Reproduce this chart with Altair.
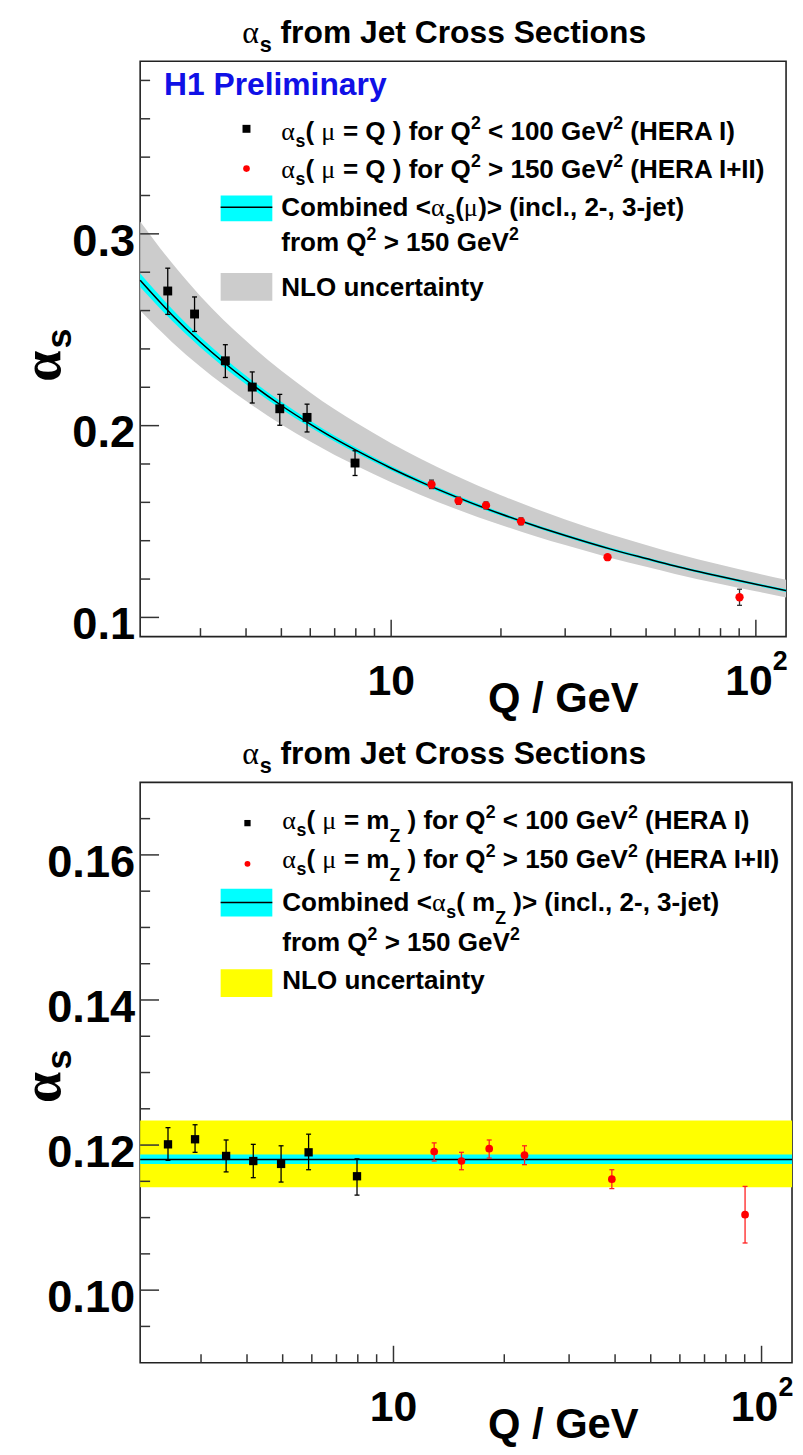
import altair as alt
import pandas as pd

SANS = "Liberation Sans, Arial, Helvetica, sans-serif"
SERIF = "Liberation Serif, Times New Roman, serif"

# ---------------- data ----------------
Q_HERA1 = [2.44, 2.89, 3.51, 4.16, 4.95, 5.88, 7.96]
Q_HERA2 = [12.9, 15.3, 18.2, 22.7, 39.2, 90.2]

# top panel: alpha_s(mu = Q)
ASQ_HERA1 = [0.2702, 0.2582, 0.2338, 0.2201, 0.2088, 0.2043, 0.1805]
ASQ_HERA1_LO = [0.2580, 0.2491, 0.2251, 0.2118, 0.2002, 0.1967, 0.1740]
ASQ_HERA1_HI = [0.2821, 0.2671, 0.2422, 0.2280, 0.2163, 0.2112, 0.1869]
ASQ_HERA2 = [0.1693, 0.1608, 0.1584, 0.1501, 0.1314, 0.1105]
ASQ_HERA2_LO = [0.1672, 0.1590, 0.1566, 0.1483, 0.1302, 0.1063]
ASQ_HERA2_HI = [0.1716, 0.1627, 0.1602, 0.1519, 0.1326, 0.1147]

# running of the combined value (read along the drawn curve and bands)
CURVE_Q = [2.05, 2.5, 3, 4, 5, 6, 7, 8, 10, 12, 15, 20, 25, 30, 40, 50, 60, 80, 100, 121]
CURVE_AS = [0.2758, 0.2580, 0.2435, 0.2238, 0.2105, 0.2008, 0.1932, 0.1872, 0.1778, 0.1708,
            0.1630, 0.1539, 0.1475, 0.1427, 0.1356, 0.1307, 0.1268, 0.1213, 0.1173, 0.1140]
CURVE_NLO_HI = [0.3065, 0.2850, 0.2675, 0.2442, 0.2286, 0.2173, 0.2085, 0.2016, 0.1908, 0.1828,
                0.1740, 0.1637, 0.1565, 0.1511, 0.1432, 0.1377, 0.1334, 0.1274, 0.1231, 0.1196]
CURVE_NLO_LO = [0.2600, 0.2438, 0.2307, 0.2128, 0.2006, 0.1917, 0.1847, 0.1792, 0.1705, 0.1640,
                0.1567, 0.1482, 0.1422, 0.1377, 0.1310, 0.1264, 0.1227, 0.1174, 0.1136, 0.1104]
CURVE_EXP = [0.0035, 0.0031, 0.0027, 0.0022, 0.0019, 0.0017, 0.0015, 0.0014, 0.0012, 0.0011,
             0.0010, 0.0009, 0.0008, 0.0008, 0.0007, 0.0007, 0.0007, 0.0007, 0.0007, 0.0007]

# bottom panel: alpha_s(mu = m_Z)
ASMZ_HERA1 = [0.1201, 0.1208, 0.1185, 0.1178, 0.1174, 0.1190, 0.1157]
ASMZ_HERA1_LO = [0.1179, 0.1190, 0.1163, 0.1155, 0.1149, 0.1166, 0.1131]
ASMZ_HERA1_HI = [0.1224, 0.1228, 0.1207, 0.1201, 0.1199, 0.1215, 0.1181]
ASMZ_HERA2 = [0.1191, 0.1178, 0.1195, 0.1186, 0.1153, 0.1104]
ASMZ_HERA2_LO = [0.1178, 0.1166, 0.1182, 0.1173, 0.1140, 0.1065]
ASMZ_HERA2_HI = [0.1203, 0.1190, 0.1207, 0.1199, 0.1166, 0.1143]
COMBINED_MZ = [0.1180]
COMBINED_MZ_EXP = [0.1174, 0.1187]
COMBINED_MZ_NLO = [0.1142, 0.1234]

# axes
X_DOMAIN = [2.05, 121]
X_MAJOR = [10, 100]
X_MAJOR_TEXT = ["10", "10"]
X_MAJOR_EXP = ["", "2"]
X_MINOR = [3, 4, 5, 6, 7, 8, 9, 20, 30, 40, 50, 60, 70, 80, 90]
Y_DOMAIN_TOP = [0.09, 0.39]
Y_MAJOR_TOP = [0.1, 0.2, 0.3]
Y_MAJOR_TOP_TEXT = ["0.1", "0.2", "0.3"]
Y_MINOR_TOP = [0.12, 0.14, 0.16, 0.18, 0.22, 0.24, 0.26, 0.28, 0.32, 0.34, 0.36, 0.38]
Y_DOMAIN_BOT = [0.09, 0.17]
Y_MAJOR_BOT = [0.10, 0.12, 0.14, 0.16]
Y_MAJOR_BOT_TEXT = ["0.10", "0.12", "0.14", "0.16"]
Y_MINOR_BOT = [0.095, 0.105, 0.11, 0.115, 0.125, 0.13, 0.135, 0.145, 0.15, 0.155, 0.165]

# ---------------- helpers ----------------
ONE = pd.DataFrame({"k": [0]})
TICK = "#333333"

BW = {' ': 278, '!': 333, '(': 333, ')': 333, '+': 584, ',': 278, '-': 333, '.': 278, '/': 278,
      '<': 584, '=': 584, '>': 584,
      'A': 722, 'B': 722, 'C': 722, 'D': 722, 'E': 667, 'F': 611, 'G': 778, 'H': 722, 'I': 278,
      'J': 556, 'K': 722, 'L': 611, 'M': 833, 'N': 722, 'O': 778, 'P': 667, 'Q': 778, 'R': 722,
      'S': 667, 'T': 611, 'U': 722, 'V': 667, 'W': 944, 'X': 667, 'Y': 667, 'Z': 611,
      'a': 556, 'b': 611, 'c': 556, 'd': 611, 'e': 556, 'f': 333, 'g': 611, 'h': 611, 'i': 278,
      'j': 278, 'k': 556, 'l': 278, 'm': 889, 'n': 611, 'o': 611, 'p': 611, 'q': 611, 'r': 389,
      's': 556, 't': 333, 'u': 611, 'v': 556, 'w': 778, 'x': 556, 'y': 556, 'z': 500}


def bw(s):
    return sum(BW.get(c, 556) for c in s) / 1000.0


def txt(t, x, y, fs, font=SANS, weight="bold", color="black", align="left", angle=0):
    kw = dict(text=t, font=font, fontSize=fs, fontWeight=weight, color=color,
              align=align, baseline="alphabetic")
    if angle:
        kw["angle"] = angle
    return alt.Chart(ONE).mark_text(**kw).encode(x=alt.value(x), y=alt.value(y))


def rich(segs, x0, y0, size, color="black", align="left"):
    parts = []
    x = 0.0
    for text, kind in segs:
        if kind == "g":
            fs, font, weight, dy = size, SERIF, "normal", 0.0
            w = 0.55 * fs * len(text)
        elif kind in ("sub", "subz"):
            fs, font, weight = size * 0.68, SANS, "bold"
            dy = size * (0.28 if kind == "sub" else 0.5)
            w = bw(text) * fs
        elif kind == "sup":
            fs, font, weight, dy = size * 0.68, SANS, "bold", -size * 0.42
            w = bw(text) * fs
        else:
            fs, font, weight, dy = size, SANS, "bold", 0.0
            w = bw(text) * fs
        lead = len(text) - len(text.lstrip(" "))
        shown = text.strip(" ")
        if shown:
            parts.append((x + lead * 0.278 * fs, dy, shown, fs, font, weight))
        x += w
    off = x0 - (x / 2.0 if align == "center" else 0.0)
    return [txt(t, off + px, y0 + dy, fs, font, weight, color) for px, dy, t, fs, font, weight in parts]


def panel(W, H, ydom, ymaj, ymaj_txt, ymin):
    xs = alt.Scale(type="log", domain=X_DOMAIN, nice=False)
    ys = alt.Scale(domain=ydom, nice=False, zero=False)
    L = []
    # ticks (inward, ROOT style)
    L.append(alt.Chart(pd.DataFrame({"v": ymaj})).mark_rule(color=TICK, strokeWidth=1.5).encode(
        y=alt.Y("v:Q", scale=ys, axis=None), x=alt.value(0), x2=alt.value(19)))
    L.append(alt.Chart(pd.DataFrame({"v": ymin})).mark_rule(color=TICK, strokeWidth=1.5).encode(
        y=alt.Y("v:Q", scale=ys, axis=None), x=alt.value(0), x2=alt.value(10)))
    L.append(alt.Chart(pd.DataFrame({"q": X_MAJOR})).mark_rule(color=TICK, strokeWidth=1.5).encode(
        x=alt.X("q:Q", scale=xs, axis=None), y=alt.value(H), y2=alt.value(H - 17)))
    L.append(alt.Chart(pd.DataFrame({"q": X_MINOR})).mark_rule(color=TICK, strokeWidth=1.5).encode(
        x=alt.X("q:Q", scale=xs, axis=None), y=alt.value(H), y2=alt.value(H - 8.5)))
    # y tick labels
    L.append(alt.Chart(pd.DataFrame({"v": ymaj, "t": ymaj_txt})).mark_text(
        font=SANS, fontSize=45.5, fontWeight="bold", align="right", baseline="alphabetic",
        dy=22, color="black").encode(
        y=alt.Y("v:Q", scale=ys, axis=None), x=alt.value(-5), text="t:N"))
    # x tick labels
    L.append(alt.Chart(pd.DataFrame({"q": X_MAJOR[:1], "t": X_MAJOR_TEXT[:1]})).mark_text(
        font=SANS, fontSize=43, fontWeight="bold", align="center", baseline="alphabetic",
        color="black").encode(x=alt.X("q:Q", scale=xs, axis=None), y=alt.value(H + 59), text="t:N"))
    L.append(alt.Chart(pd.DataFrame({"q": X_MAJOR[1:], "t": X_MAJOR_TEXT[1:]})).mark_text(
        font=SANS, fontSize=43, fontWeight="bold", align="center", baseline="alphabetic",
        dx=-7, color="black").encode(x=alt.X("q:Q", scale=xs, axis=None), y=alt.value(H + 59), text="t:N"))
    L.append(alt.Chart(pd.DataFrame({"q": X_MAJOR[1:], "t": X_MAJOR_EXP[1:]})).mark_text(
        font=SANS, fontSize=27, fontWeight="bold", align="left", baseline="alphabetic",
        dx=17, color="black").encode(x=alt.X("q:Q", scale=xs, axis=None), y=alt.value(H + 34), text="t:N"))
    # axis titles
    L.append(txt("Q / GeV", 350, H + 76, 42))
    L.append(txt("\u03b1", -80.6, 307, 56, font=SERIF, weight="bold", align="center", angle=270))
    L.append(txt("s", -70, 279, 36, align="center", angle=270))
    # panel title
    L += rich([("\u03b1", "g"), ("s", "sub"), (" from Jet Cross Sections", "b")], 306, -18, 32,
              align="center")
    return xs, ys, L


def errbars(q, lo, hi, xs, ys, color, width=1.3, cap=2.5):
    df = pd.DataFrame({"q": q, "lo": lo, "hi": hi})
    base = alt.Chart(df)
    return [
        base.mark_rule(color=color, strokeWidth=width).encode(
            x=alt.X("q:Q", scale=xs, axis=None), y=alt.Y("lo:Q", scale=ys, axis=None), y2="hi:Q"),
        base.mark_rule(color=color, strokeWidth=width, xOffset=-cap, x2Offset=cap).encode(
            x=alt.X("q:Q", scale=xs, axis=None), x2="q:Q", y=alt.Y("hi:Q", scale=ys, axis=None)),
        base.mark_rule(color=color, strokeWidth=width, xOffset=-cap, x2Offset=cap).encode(
            x=alt.X("q:Q", scale=xs, axis=None), x2="q:Q", y=alt.Y("lo:Q", scale=ys, axis=None)),
    ]


def points(q, v, xs, ys, shape, color, size):
    return alt.Chart(pd.DataFrame({"q": q, "v": v})).mark_point(
        shape=shape, filled=True, color=color, size=size, opacity=1, strokeWidth=0).encode(
        x=alt.X("q:Q", scale=xs, axis=None), y=alt.Y("v:Q", scale=ys, axis=None))


# ---------------- top panel ----------------
WT, HT = 650, 579
xs, ys, axes_top = panel(WT, HT, Y_DOMAIN_TOP, Y_MAJOR_TOP, Y_MAJOR_TOP_TEXT, Y_MINOR_TOP)
curve = pd.DataFrame({"q": CURVE_Q, "a": CURVE_AS, "lo": CURVE_NLO_LO, "hi": CURVE_NLO_HI,
                      "elo": [a - e for a, e in zip(CURVE_AS, CURVE_EXP)],
                      "ehi": [a + e for a, e in zip(CURVE_AS, CURVE_EXP)]})
top_layers = [
    alt.Chart(curve).mark_area(color="#cccccc", opacity=1, interpolate="monotone").encode(
        x=alt.X("q:Q", scale=xs, axis=None), y=alt.Y("lo:Q", scale=ys, axis=None), y2="hi:Q"),
    alt.Chart(curve).mark_area(color="#00ffff", opacity=1, interpolate="monotone").encode(
        x=alt.X("q:Q", scale=xs, axis=None), y=alt.Y("elo:Q", scale=ys, axis=None), y2="ehi:Q"),
    alt.Chart(curve).mark_line(color="black", strokeWidth=1.5, interpolate="monotone").encode(
        x=alt.X("q:Q", scale=xs, axis=None), y=alt.Y("a:Q", scale=ys, axis=None)),
]
top_layers += errbars(Q_HERA1, ASQ_HERA1_LO, ASQ_HERA1_HI, xs, ys, "black")
top_layers += errbars(Q_HERA2, ASQ_HERA2_LO, ASQ_HERA2_HI, xs, ys, "#333333")
top_layers.append(points(Q_HERA1, ASQ_HERA1, xs, ys, "square", "black", 80))
top_layers.append(points(Q_HERA2, ASQ_HERA2, xs, ys, "circle", "#ff0000", 70))
top_layers += axes_top

# legend (top)
LS = 26.2
top_layers.append(txt("H1 Preliminary", 24, 34, 32, color="#1010e6"))
top_layers.append(alt.Chart(ONE).mark_point(shape="square", filled=True, color="black", size=64,
                                            opacity=1).encode(x=alt.value(107), y=alt.value(68)))
top_layers.append(alt.Chart(ONE).mark_point(shape="circle", filled=True, color="#ff0000", size=45,
                                            opacity=1).encode(x=alt.value(107), y=alt.value(108)))
top_layers.append(alt.Chart(ONE).mark_rect(color="#00ffff").encode(
    x=alt.value(81), x2=alt.value(133), y=alt.value(135), y2=alt.value(161)))
top_layers.append(alt.Chart(ONE).mark_rule(color="black", strokeWidth=1.5).encode(
    x=alt.value(81), x2=alt.value(133), y=alt.value(147)))
top_layers.append(alt.Chart(ONE).mark_rect(color="#cccccc").encode(
    x=alt.value(81), x2=alt.value(133), y=alt.value(213), y2=alt.value(241)))
top_layers += rich([("\u03b1", "g"), ("s", "sub"), ("( ", "b"), ("\u03bc", "g"), (" = Q ) for Q", "b"),
                    ("2", "sup"), (" < 100 GeV", "b"), ("2", "sup"), (" (HERA I)", "b")], 142, 79, LS)
top_layers += rich([("\u03b1", "g"), ("s", "sub"), ("( ", "b"), ("\u03bc", "g"), (" = Q ) for Q", "b"),
                    ("2", "sup"), (" > 150 GeV", "b"), ("2", "sup"), (" (HERA I+II)", "b")], 142, 117, LS)
top_layers += rich([("Combined <", "b"), ("\u03b1", "g"), ("s", "sub"), ("(", "b"), ("\u03bc", "g"),
                    (")> (incl., 2-, 3-jet)", "b")], 142, 156, LS)
top_layers += rich([("from Q", "b"), ("2", "sup"), (" > 150 GeV", "b"), ("2", "sup")], 142, 191, LS)
top_layers += rich([("NLO uncertainty", "b")], 142, 236, LS)

top = alt.layer(*top_layers).properties(width=WT, height=HT)

# ---------------- bottom panel ----------------
WB, HB = 656, 584
xs2, ys2, axes_bot = panel(WB, HB, Y_DOMAIN_BOT, Y_MAJOR_BOT, Y_MAJOR_BOT_TEXT, Y_MINOR_BOT)
bot_layers = [
    alt.Chart(pd.DataFrame({"lo": [COMBINED_MZ_NLO[0]], "hi": [COMBINED_MZ_NLO[1]]})).mark_rect(
        color="#ffff00").encode(x=alt.value(0), x2=alt.value(WB),
                                y=alt.Y("lo:Q", scale=ys2, axis=None), y2="hi:Q"),
    alt.Chart(pd.DataFrame({"lo": [COMBINED_MZ_EXP[0]], "hi": [COMBINED_MZ_EXP[1]]})).mark_rect(
        color="#00ffff").encode(x=alt.value(0), x2=alt.value(WB),
                                y=alt.Y("lo:Q", scale=ys2, axis=None), y2="hi:Q"),
    alt.Chart(pd.DataFrame({"v": COMBINED_MZ})).mark_rule(color="black", strokeWidth=1.5).encode(
        x=alt.value(0), x2=alt.value(WB), y=alt.Y("v:Q", scale=ys2, axis=None)),
]
bot_layers += errbars(Q_HERA1, ASMZ_HERA1_LO, ASMZ_HERA1_HI, xs2, ys2, "black")
bot_layers += errbars(Q_HERA2, ASMZ_HERA2_LO, ASMZ_HERA2_HI, xs2, ys2, "#ff2020")
bot_layers.append(points(Q_HERA1, ASMZ_HERA1, xs2, ys2, "square", "black", 70))
bot_layers.append(points(Q_HERA2, ASMZ_HERA2, xs2, ys2, "circle", "#ff0000", 60))
bot_layers += axes_bot

bot_layers.append(alt.Chart(ONE).mark_point(shape="square", filled=True, color="black", size=40,
                                            opacity=1).encode(x=alt.value(108), y=alt.value(41)))
bot_layers.append(alt.Chart(ONE).mark_point(shape="circle", filled=True, color="#ff0000", size=35,
                                            opacity=1).encode(x=alt.value(108), y=alt.value(82)))
bot_layers.append(alt.Chart(ONE).mark_rect(color="#00ffff").encode(
    x=alt.value(81), x2=alt.value(133), y=alt.value(107), y2=alt.value(135)))
bot_layers.append(alt.Chart(ONE).mark_rule(color="black", strokeWidth=1.5).encode(
    x=alt.value(81), x2=alt.value(133), y=alt.value(121)))
bot_layers.append(alt.Chart(ONE).mark_rect(color="#ffff00").encode(
    x=alt.value(81), x2=alt.value(133), y=alt.value(188), y2=alt.value(216)))
bot_layers += rich([("\u03b1", "g"), ("s", "sub"), ("( ", "b"), ("\u03bc", "g"), (" = m", "b"), ("Z", "subz"),
                    (" ) for Q", "b"), ("2", "sup"), (" < 100 GeV", "b"), ("2", "sup"), (" (HERA I)", "b")],
                   143, 47, LS)
bot_layers += rich([("\u03b1", "g"), ("s", "sub"), ("( ", "b"), ("\u03bc", "g"), (" = m", "b"), ("Z", "subz"),
                    (" ) for Q", "b"), ("2", "sup"), (" > 150 GeV", "b"), ("2", "sup"), (" (HERA I+II)", "b")],
                   143, 86, LS)
bot_layers += rich([("Combined <", "b"), ("\u03b1", "g"), ("s", "sub"), ("( m", "b"), ("Z", "subz"),
                    (" )> (incl., 2-, 3-jet)", "b")], 143, 129, LS)
bot_layers += rich([("from Q", "b"), ("2", "sup"), (" > 150 GeV", "b"), ("2", "sup")], 143, 170, LS)
bot_layers += rich([("NLO uncertainty", "b")], 143, 208, LS)

bottom = alt.layer(*bot_layers).properties(width=WB, height=HB)

chart = alt.vconcat(top, bottom, spacing=146.7, bounds="flush").properties(
    padding={"left": 6, "top": 4, "right": 0, "bottom": 0},
    background="white").configure_view(stroke="#222222", strokeWidth=1.6)

chart.save("out.html", embed_options={"renderer": "svg", "actions": False})
